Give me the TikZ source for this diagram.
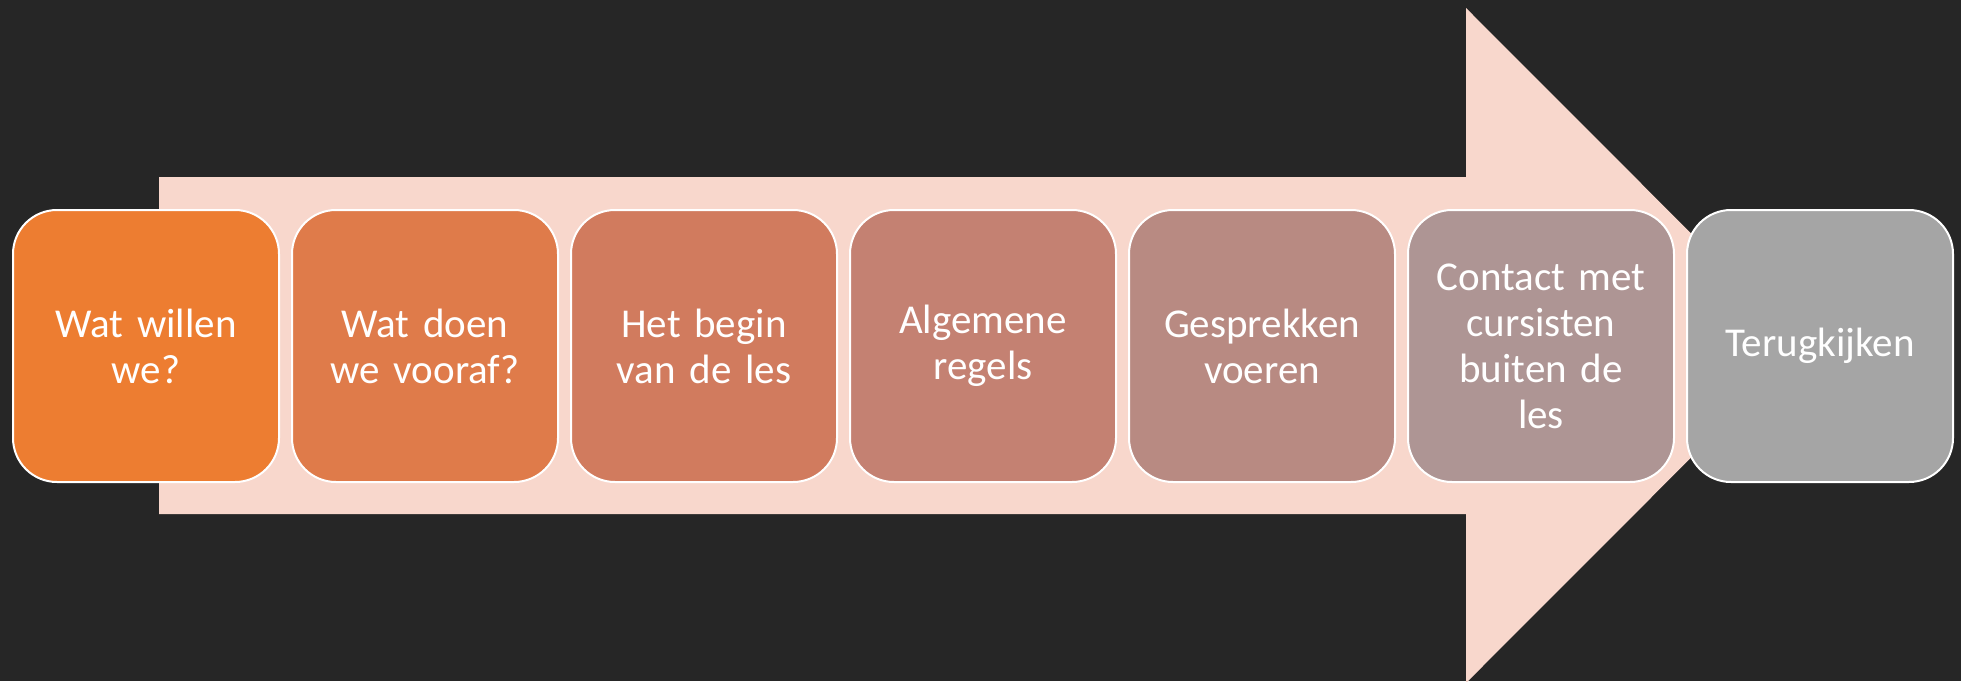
\documentclass[tikz,border=0pt]{standalone}
\usepackage{fontspec}
\setmainfont{Carlito}

\definecolor{bgdark}{HTML}{262626}
\definecolor{arrowfill}{HTML}{F8D7CC}
\definecolor{stepA}{HTML}{ED7D31}
\definecolor{stepB}{HTML}{DF7B4A}
\definecolor{stepC}{HTML}{D17B5E}
\definecolor{stepD}{HTML}{C48172}
\definecolor{stepE}{HTML}{B88A82}
\definecolor{stepF}{HTML}{AE9594}
\definecolor{stepG}{HTML}{A5A5A5}

\tikzset{
  stepbox/.style={draw=white,line width=1pt,rounded corners=22pt,
    minimum width=133pt,minimum height=136pt,inner sep=0pt,outer sep=0pt,
    text width=120pt,align=center,text=white,
    font=\fontsize{20.5}{23}\selectfont},
}

\begin{document}
\begin{tikzpicture}[x=0.5pt,y=-0.5pt]
  \fill[bgdark] (0,0) rectangle (1961,681);
  \useasboundingbox (0,0) rectangle (1961,681);
  % big arrow behind the steps
  \fill[arrowfill] (159,177) -- (1466,177) -- (1466,8) -- (1803,345.5)
    -- (1466,683) -- (1466,514) -- (159,514) -- cycle;
  \node[stepbox,fill=stepA] at (146,346) (s1) {Wat willen\\we?};
  \node[stepbox,fill=stepB,anchor=west,xshift=6.5pt] at (s1.east) (s2) {Wat doen\\we vooraf?};
  \node[stepbox,fill=stepC,anchor=west,xshift=6.5pt] at (s2.east) (s3) {Het begin\\van de les};
  \node[stepbox,fill=stepD,anchor=west,xshift=6.5pt] at (s3.east) (s4) {Algemene\\regels};
  \node[stepbox,fill=stepE,anchor=west,xshift=6.5pt] at (s4.east) (s5) {Gesprekken\\voeren};
  \node[stepbox,fill=stepF,anchor=west,xshift=6.5pt] at (s5.east) (s6) {Contact met\\cursisten\\buiten de\\les};
  \node[stepbox,fill=stepG,anchor=west,xshift=6.5pt] at (s6.east) (s7) {Terugkijken};
\end{tikzpicture}
\end{document}
